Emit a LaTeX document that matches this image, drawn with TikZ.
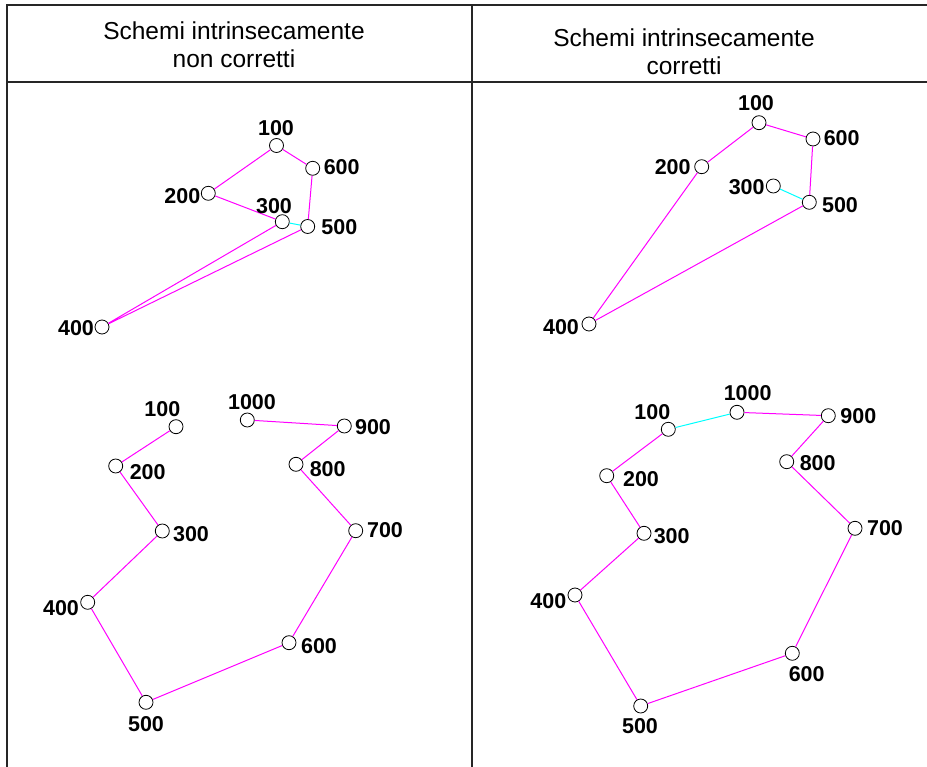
\documentclass[tikz,border=0pt]{standalone}
\usepackage{fontspec}
\setmainfont{Liberation Sans}
\definecolor{linkmag}{RGB}{255,0,255}
\definecolor{linkcyan}{RGB}{0,255,255}
\begin{document}
\begin{tikzpicture}[x=1pt,y=-1pt,
  pt/.style={circle,draw=black,fill=white,line width=0.8pt,minimum size=14pt,inner sep=0pt},
  lbl/.style={font=\fontsize{21.5}{21.5}\selectfont\bfseries,inner sep=0pt},
  hdr/.style={font=\fontsize{24.5}{28}\selectfont,align=center,inner sep=0pt},
  grid/.style={line width=1.5pt,draw=black!85},
  mg/.style={draw=linkmag,line width=1pt},
  cy/.style={draw=linkcyan,line width=1pt}]
\useasboundingbox (0,0) rectangle (927,767);
% table
\coordinate (tl) at (7,5); \coordinate (tr) at (927,5);
\coordinate (hl) at (7,82); \coordinate (hr) at (927,82);
\coordinate (bl) at (7,767); \coordinate (mt) at (472,5); \coordinate (mb) at (472,767);
\draw[grid] (tr) -- (tl) -- (bl);
\draw[grid] (hl) -- (hr);
\draw[grid] (mt) -- (mb);
\node[hdr] (h1) at (234,45) {Schemi intrinsecamente\\non corretti};
\node[hdr] (h2) at (684,52) {Schemi intrinsecamente\\corretti};
% top-left
\node[pt] (a100) at (276.5,145.5) {};
\node[pt] (a600) at (312.7,168.3) {};
\node[pt] (a200) at (208.3,193.3) {};
\node[pt] (a300) at (282.3,221.7) {};
\node[pt] (a500) at (307.7,226.5) {};
\node[pt] (a400) at (102,327) {};
\draw[mg] (a200) -- (a100) -- (a600) -- (a500) -- (a400) -- (a300) -- (a200);
\draw[cy] (a300) -- (a500);
\node[lbl] (la100) at (276,128) {100};
\node[lbl] (la600) at (341.7,167.3) {600};
\node[lbl] (la200) at (182.3,196) {200};
\node[lbl] (la300) at (274,206) {300};
\node[lbl] (la500) at (339.3,227.3) {500};
\node[lbl] (la400) at (76,328) {400};
% top-right
\node[pt] (b100) at (759,122.7) {};
\node[pt] (b600) at (813,139) {};
\node[pt] (b200) at (701.7,166.7) {};
\node[pt] (b300) at (773.3,186) {};
\node[pt] (b500) at (809.3,202.3) {};
\node[pt] (b400) at (589,324) {};
\draw[mg] (b400) -- (b200) -- (b100) -- (b600) -- (b500) -- (b400);
\draw[cy] (b300) -- (b500);
\node[lbl] (lb100) at (756,103) {100};
\node[lbl] (lb600) at (841.7,138.3) {600};
\node[lbl] (lb200) at (672.7,167.3) {200};
\node[lbl] (lb300) at (746.7,187.3) {300};
\node[lbl] (lb500) at (840,205) {500};
\node[lbl] (lb400) at (561,327) {400};
% bottom-left
\node[pt] (c100) at (176,426.7) {};
\node[pt] (c200) at (115.7,466) {};
\node[pt] (c300) at (162.3,531) {};
\node[pt] (c400) at (87.7,602.3) {};
\node[pt] (c500) at (146,702.3) {};
\node[pt] (c600) at (289,642.7) {};
\node[pt] (c700) at (355.7,530.7) {};
\node[pt] (c800) at (296,464.3) {};
\node[pt] (c900) at (344.3,426) {};
\node[pt] (c1000) at (247.3,420) {};
\draw[mg] (c100) -- (c200) -- (c300) -- (c400) -- (c500) -- (c600) -- (c700) -- (c800) -- (c900) -- (c1000);
\node[lbl] (lc100) at (162.3,409.3) {100};
\node[lbl] (lc200) at (147.7,471.7) {200};
\node[lbl] (lc300) at (191,534.3) {300};
\node[lbl] (lc400) at (61,608.3) {400};
\node[lbl] (lc500) at (146,724) {500};
\node[lbl] (lc600) at (319,646) {600};
\node[lbl] (lc700) at (385,530) {700};
\node[lbl] (lc800) at (327.7,469.3) {800};
\node[lbl] (lc900) at (373,427) {900};
\node[lbl] (lc1000) at (252,401.7) {1000};
% bottom-right
\node[pt] (d100) at (668.3,429.3) {};
\node[pt] (d200) at (606.7,475.7) {};
\node[pt] (d300) at (644,533.3) {};
\node[pt] (d400) at (575,595) {};
\node[pt] (d500) at (640.7,706) {};
\node[pt] (d600) at (792.3,653.3) {};
\node[pt] (d700) at (855,528.3) {};
\node[pt] (d800) at (786.7,461.7) {};
\node[pt] (d900) at (828.3,415.7) {};
\node[pt] (d1000) at (737,412.3) {};
\draw[mg] (d100) -- (d200) -- (d300) -- (d400) -- (d500) -- (d600) -- (d700) -- (d800) -- (d900) -- (d1000);
\draw[cy] (d100) -- (d1000);
\node[lbl] (ld100) at (652.3,411.7) {100};
\node[lbl] (ld200) at (641,479) {200};
\node[lbl] (ld300) at (671.7,536) {300};
\node[lbl] (ld400) at (548.3,601) {400};
\node[lbl] (ld500) at (640,726) {500};
\node[lbl] (ld600) at (806.7,674) {600};
\node[lbl] (ld700) at (885,528) {700};
\node[lbl] (ld800) at (817.7,462.7) {800};
\node[lbl] (ld900) at (858.3,415.7) {900};
\node[lbl] (ld1000) at (747.7,392.7) {1000};
\end{tikzpicture}
\end{document}
